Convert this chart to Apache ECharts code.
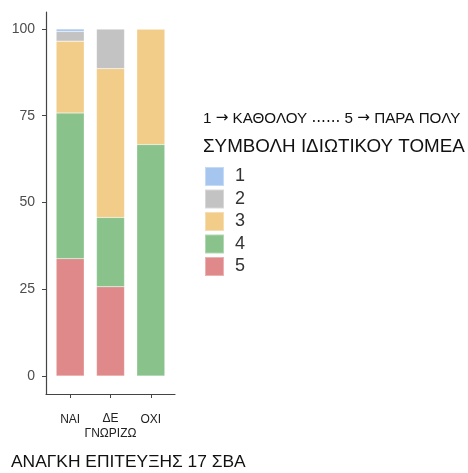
<!DOCTYPE html>
<html><head><meta charset="utf-8">
<script src="https://cdn.jsdelivr.net/npm/echarts@6/dist/echarts.min.js"></script>
<style>html,body{margin:0;padding:0;background:#fff}#c{width:468px;height:473px}</style>
</head><body><div id="c"></div>
<script>
const categories = ['ΝΑΙ', 'ΔΕ\nΓΝΩΡΙΖΩ', 'ΟΧΙ'];
const levels = ['1', '2', '3', '4', '5'];
const v1 = [0.7, 0, 0];
const v2 = [2.8, 11.4, 0];
const v3 = [20.7, 42.9, 33.3];
const v4 = [42.0, 20.0, 66.7];
const v5 = [33.8, 25.7, 0];
const yTicks = [0, 25, 50, 75, 100];
const colors = {'1': '#a6c6f0', '2': '#c3c3c3', '3': '#f2cc89', '4': '#89c38b', '5': '#e0898a'};
const values = {'1': v1, '2': v2, '3': v3, '4': v4, '5': v5};
const font = 'Liberation Sans, Arial, sans-serif';

// panel layout (axis frame)
const W = 468, pL = 46, pR = 175, pT = 12, pB = 394;
const xMin = 0.4, xMax = 3.6, yMin = -5.2, yMax = 104.9;
const unit = (pR - pL) / (xMax - xMin);
const barL = pL + (0.5 - xMin) * unit;
const barR = pL + (3.5 - xMin) * unit;

const chart = echarts.init(document.getElementById('c'), null, {renderer: 'canvas'});
const series = ['5', '4', '3', '2', '1'].map(k => ({
  name: k, type: 'bar', stack: 'all', barWidth: 28,
  xAxisIndex: 1, yAxisIndex: 1,
  itemStyle: {color: colors[k], borderColor: 'rgba(255,255,255,0.35)', borderWidth: 0.5},
  data: values[k]
}));
const t1 = {fontFamily: font, fontSize: 15.2, color: '#111'};
chart.setOption({
  animation: false,
  title: [
    {text: '1 {a|→} ΚΑΘΟΛΟΥ {d|......} 5 {a|→} ΠΑΡΑ ΠΟΛΥ', left: 203, top: 111, padding: 0,
     textStyle: Object.assign({fontWeight: 'normal', rich: {
       a: {fontFamily: 'DejaVu Sans', fontSize: 15.2, color: '#111'},
       d: {fontFamily: 'DejaVu Sans', fontSize: 15.2, color: '#111'}
     }}, t1)},
    {text: 'ΣΥΜΒΟΛΗ ΙΔΙΩΤΙΚΟΥ ΤΟΜΕΑ', left: 203, top: 137, padding: 0,
     textStyle: {fontFamily: font, fontSize: 18.8, fontWeight: 'normal', color: '#111'}},
    {text: 'ΑΝΑΓΚΗ ΕΠΙΤΕΥΞΗΣ 17 ΣΒΑ', left: 11, top: 454, padding: 0,
     textStyle: {fontFamily: font, fontSize: 17.4, fontWeight: 'normal', color: '#111'}}
  ],
  legend: {
    orient: 'vertical', left: 204, top: 166, padding: 0,
    itemWidth: 19, itemHeight: 19, itemGap: 1.5, icon: 'rect',
    data: levels,
    textStyle: {fontFamily: font, fontSize: 18, color: '#333', padding: [0, 0, 0, 6]},
    selectedMode: false
  },
  grid: [
    {left: pL, right: W - pR, top: pT, bottom: 473 - pB, containLabel: false},
    {left: barL, right: W - barR, top: pT, bottom: 473 - pB, containLabel: false}
  ],
  xAxis: [{
    type: 'value', gridIndex: 0, min: xMin, max: xMax,
    splitLine: {show: false},
    axisLine: {show: true, onZero: false, lineStyle: {color: '#444', width: 1.2}},
    axisTick: {show: true, customValues: [1, 2, 3], length: 4, lineStyle: {color: '#444'}},
    axisLabel: {
      customValues: [1, 2, 3], margin: 17,
      formatter: v => {
        const c = categories[Math.round(v) - 1];
        return c.indexOf('\n') >= 0 ? c : '{s|' + c + '}';
      },
      fontFamily: font, fontSize: 12, color: '#222', lineHeight: 15,
      rich: {s: {fontFamily: font, fontSize: 12, color: '#222', lineHeight: 15, padding: [3, 0, 0, 0]}}
    }
  }, {
    type: 'category', gridIndex: 1, data: categories,
    axisLine: {show: false, onZero: false}, axisTick: {show: false}, axisLabel: {show: false}, splitLine: {show: false}
  }],
  yAxis: [{
    type: 'value', gridIndex: 0, min: yMin, max: yMax,
    splitLine: {show: false},
    axisLine: {show: true, onZero: false, lineStyle: {color: '#444', width: 1.2}},
    axisTick: {show: true, customValues: yTicks, length: 4, lineStyle: {color: '#444'}},
    axisLabel: {customValues: yTicks, margin: 11, fontFamily: font, fontSize: 14, color: '#4d4d4d'}
  }, {
    type: 'value', gridIndex: 1, min: yMin, max: yMax, show: false,
    splitLine: {show: false}
  }],
  series: series
});
</script></body></html>
